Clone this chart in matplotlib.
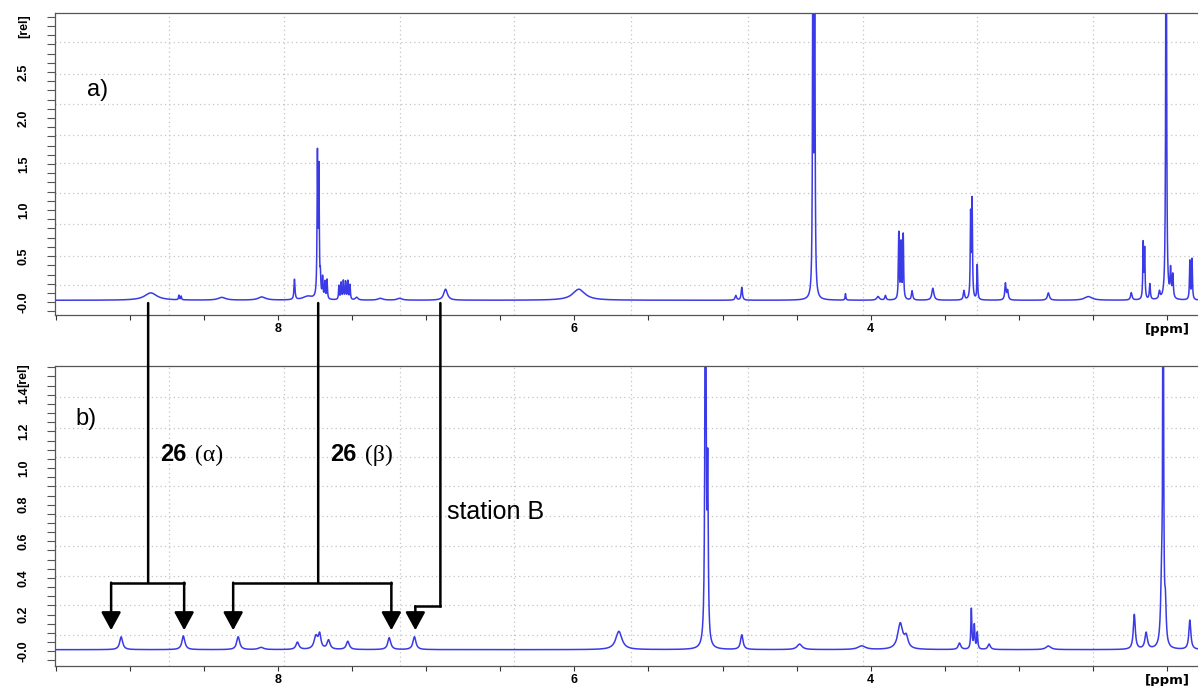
import numpy as np
import matplotlib
matplotlib.use('Agg')
import matplotlib.pyplot as plt
from matplotlib.patches import ConnectionPatch

# peak lists (ppm, height [rel], half width [ppm])
a_ppm = [8.86, 8.67, 8.655, 8.38, 8.11, 7.89, 7.80, 7.735, 7.725, 7.715, 7.70, 7.685, 7.67,
         7.59, 7.575, 7.56, 7.545, 7.53, 7.515, 7.47, 7.31, 7.18, 6.87, 5.97, 4.91, 4.87,
         4.39, 4.378, 4.17, 3.95, 3.90, 3.81, 3.795, 3.78, 3.72, 3.58, 3.37, 3.325, 3.315,
         3.28, 3.09, 3.075, 2.80, 2.53, 2.24, 2.16, 2.15, 2.115, 2.05, 2.005, 1.975, 1.96,
         1.845, 1.83]
a_height = [0.08, 0.05, 0.04, 0.03, 0.035, 0.22, 0.04, 1.52, 1.35, 0.2, 0.22, 0.18, 0.21,
            0.15, 0.18, 0.2, 0.19, 0.2, 0.16, 0.03, 0.02, 0.02, 0.12, 0.12, 0.05, 0.14,
            4.0, 4.0, 0.07, 0.04, 0.05, 0.72, 0.6, 0.7, 0.1, 0.13, 0.1, 0.9, 1.05,
            0.38, 0.18, 0.1, 0.08, 0.04, 0.08, 0.6, 0.53, 0.17, 0.08, 6.0, 0.3, 0.25,
            0.42, 0.44]
a_width = [0.05, 0.003, 0.003, 0.03, 0.03, 0.004, 0.04, 0.003, 0.003, 0.003, 0.003, 0.003, 0.003,
           0.003, 0.003, 0.003, 0.003, 0.003, 0.003, 0.01, 0.02, 0.02, 0.015, 0.05, 0.006, 0.005,
           0.003, 0.003, 0.003, 0.01, 0.005, 0.003, 0.003, 0.003, 0.005, 0.008, 0.005, 0.003, 0.003,
           0.003, 0.005, 0.005, 0.008, 0.03, 0.006, 0.003, 0.003, 0.004, 0.005, 0.003, 0.004, 0.004,
           0.003, 0.003]

b_ppm = [9.06, 8.64, 8.27, 8.115, 7.87, 7.745, 7.72, 7.66, 7.53, 7.25, 7.08, 5.70, 5.115,
         5.10, 4.87, 4.48, 4.06, 3.80, 3.76, 3.40, 3.32, 3.30, 3.28, 3.20, 2.80, 2.22, 2.14,
         2.035, 2.025, 2.01, 1.845]
b_height = [0.07, 0.075, 0.07, 0.012, 0.04, 0.07, 0.075, 0.05, 0.045, 0.065, 0.07, 0.10, 3.0,
            0.9, 0.08, 0.03, 0.02, 0.14, 0.06, 0.035, 0.22, 0.13, 0.09, 0.03, 0.02, 0.19, 0.09,
            0.35, 2.5, 0.2, 0.16]
b_width = [0.012, 0.012, 0.012, 0.02, 0.012, 0.015, 0.01, 0.012, 0.012, 0.012, 0.012, 0.025, 0.004,
           0.004, 0.01, 0.02, 0.03, 0.02, 0.015, 0.01, 0.004, 0.004, 0.004, 0.01, 0.02, 0.008, 0.01,
           0.008, 0.003, 0.006, 0.008]

a_base = 0.02
b_base = 0.008

# axis ticks / grids
x_major = [8, 6, 4, 2]
x_labels = ['8', '6', '4', '[ppm]']
a_yticks = [0.0, 0.5, 1.0, 1.5, 2.0, 2.5, 3.0]
a_ylabels = ['-0.0', '0.5', '1.0', '1.5', '2.0', '2.5', '[rel]']
b_yticks = [0.0, 0.2, 0.4, 0.6, 0.8, 1.0, 1.2, 1.4]
b_ylabels = ['-0.0', '0.2', '0.4', '0.6', '0.8', '1.0', '1.2', '1.4']
grid_ppm = [8.74, 7.96, 7.18, 6.41, 5.62, 4.83, 4.05, 3.28, 2.50]
a_grid = [0.185, 0.5, 0.85, 1.18, 1.51, 1.82, 2.15, 2.48, 2.82]
b_grid = [0.087, 0.25, 0.41, 0.575, 0.74, 0.90, 1.06, 1.22, 1.39]

# annotation anchors (ppm)
stem_ppm = [8.878, 7.73]
alpha_arrows = [9.128, 8.635]
beta_arrows = [8.304, 7.236]
stationB_ppm = 6.905
stationB_arrow = 7.074

blue = '#3a3ae6'
grid_col = '#c4c4c4'
tick_font = ['Liberation Sans Narrow', 'Liberation Sans', 'DejaVu Sans']


def spectrum(x, centers, heights, widths, base):
    y = np.full_like(x, base)
    for c, h, w in zip(centers, heights, widths):
        y += h / (1.0 + ((x - c) / w) ** 2)
    return y


def style_axes(ax, ylim, yticks, ylabels, minor_step, hgrid):
    ax.set_xlim(9.507, 1.79)
    ax.set_ylim(*ylim)
    for g in grid_ppm:
        ax.axvline(g, color=grid_col, lw=0.9, ls=(0, (1, 2.5)), zorder=0)
    for g in hgrid:
        ax.axhline(g, color=grid_col, lw=0.9, ls=(0, (1, 2.5)), zorder=0)
    ax.set_xticks(x_major)
    ax.set_xticklabels(x_labels, fontweight='bold', fontsize=9, family=tick_font)
    # the [ppm] label is printed in a wider face
    ax.get_xticklabels()[-1].set_family('DejaVu Sans')
    ax.get_xticklabels()[-1].set_fontsize(9.5)
    ax.set_xticks(np.arange(2.0, 9.6, 0.5), minor=True)
    ax.set_yticks(yticks)
    ax.set_yticklabels(ylabels, rotation=90, va='center', fontweight='bold',
                       fontsize=9, family=tick_font)
    ax.set_yticks(np.arange(-minor_step, ylim[1], minor_step), minor=True)
    ax.tick_params(axis='y', which='both', direction='out', length=6, width=0.8,
                   color='#555555', pad=12)
    ax.tick_params(axis='x', which='both', direction='out', length=3.5, width=0.8,
                   color='#333333', pad=2)
    for s in ['left', 'bottom', 'top']:
        ax.spines[s].set_color('#555555')
        ax.spines[s].set_linewidth(0.9)
    ax.spines['right'].set_visible(False)


x = np.linspace(1.75, 9.6, 24000)
ya = spectrum(x, a_ppm, a_height, a_width, a_base)
yb = spectrum(x, b_ppm, b_height, b_width, b_base)

fig = plt.figure(figsize=(11.98, 6.86), dpi=100)
ax1 = fig.add_axes([0.0459, 0.5408, 0.9541, 0.4402])
ax2 = fig.add_axes([0.0459, 0.0292, 0.9541, 0.4372])

style_axes(ax1, (-0.14, 3.14), a_yticks, a_ylabels, 0.1, a_grid)
style_axes(ax2, (-0.081, 1.557), b_yticks, b_ylabels, 0.05, b_grid)

ax1.plot(x, ya, color=blue, lw=1.1, zorder=2)
ax2.plot(x, yb, color=blue, lw=1.1, zorder=2)

ax2.text(-0.028, 1.445, '[rel]', transform=ax2.get_yaxis_transform(), rotation=90,
         ha='center', va='bottom', fontweight='bold', fontsize=9, family=tick_font)

ax1.text(9.29, 2.30, 'a)', fontsize=17, family='Liberation Sans', va='center')
ax2.text(9.37, 1.27, 'b)', fontsize=17, family='Liberation Sans', va='center')

# labels "26 (alpha)" and "26 (beta)"
for xp, greek in [(8.797, '\u03b1'), (7.649, '\u03b2')]:
    t = ax2.text(xp, 1.036, '26', fontsize=17, fontweight='bold', family='Liberation Sans',
                 va='baseline')
    ax2.annotate('(' + greek + ')', xy=(1, 0), xycoords=t, xytext=(6, 0),
                 textcoords='offset points', fontsize=17,
                 family='Liberation Serif', va='bottom', ha='left')
ax2.text(6.858, 0.76, 'station B', fontsize=18, family='Liberation Sans', va='center')

# connecting lines between the two spectra
lw = 1.8
for xp in stem_ppm:
    con = ConnectionPatch(xyA=(xp, -0.01), coordsA=ax1.transData,
                          xyB=(xp, 0.374), coordsB=ax2.transData, color='black', lw=lw)
    fig.add_artist(con)
con = ConnectionPatch(xyA=(stationB_ppm, -0.01), coordsA=ax1.transData,
                      xyB=(stationB_ppm, 0.244), coordsB=ax2.transData, color='black', lw=lw)
fig.add_artist(con)

arrow_style = dict(arrowstyle='-|>,head_length=0.55,head_width=0.3', mutation_scale=20,
                   color='black', lw=lw, shrinkA=0, shrinkB=0)
for pair in [alpha_arrows, beta_arrows]:
    ax2.plot(pair, [0.374, 0.374], color='black', lw=lw, solid_capstyle='projecting', zorder=5)
    for xp in pair:
        ax2.annotate('', xy=(xp, 0.114), xytext=(xp, 0.374), arrowprops=arrow_style, zorder=5)
ax2.plot([stationB_ppm, stationB_arrow], [0.244, 0.244], color='black', lw=lw,
         solid_capstyle='projecting', zorder=5)
ax2.annotate('', xy=(stationB_arrow, 0.114), xytext=(stationB_arrow, 0.244),
             arrowprops=arrow_style, zorder=5)

fig.savefig('out.png', dpi=100)
